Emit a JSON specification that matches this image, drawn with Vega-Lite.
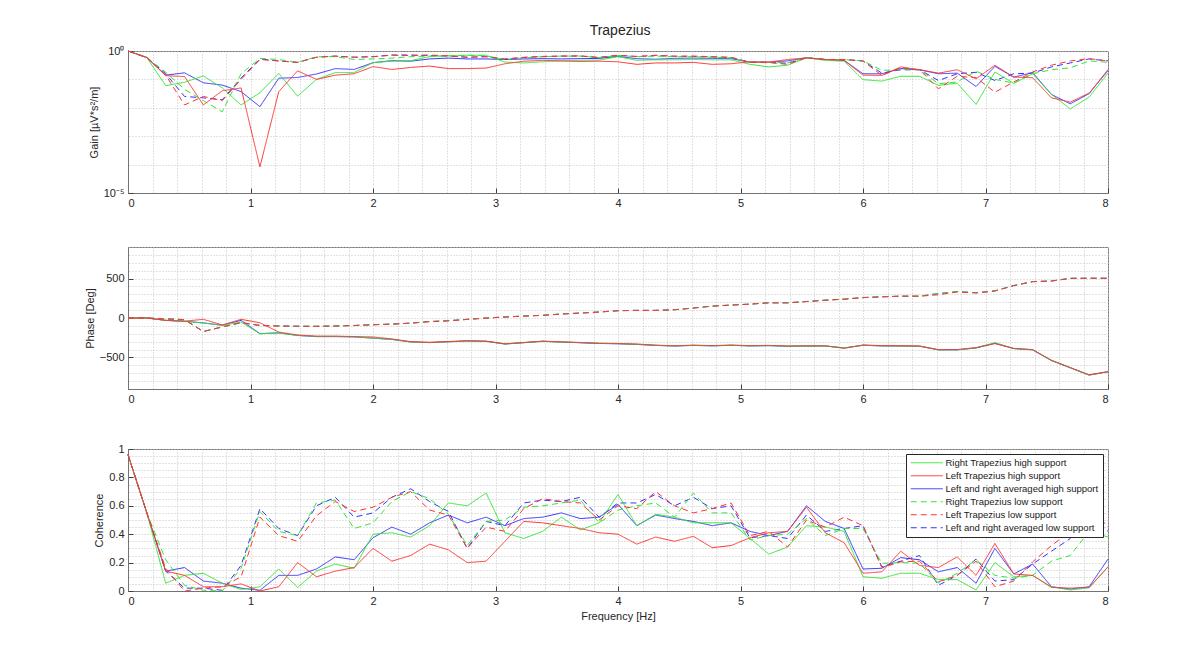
{
  "$schema": "https://vega.github.io/schema/vega-lite/v6.json",
  "padding": {"left": 83, "top": 23, "right": 0, "bottom": 0},
  "title": {"text": "Trapezius", "fontSize": 14, "fontWeight": "normal", "color": "#262626", "anchor": "middle", "offset": 7, "dx": 23},
  "config": {
    "font": "Liberation Sans",
    "view": {"stroke": "#737373"},
    "axis": {"grid": false, "labelFontSize": 11, "labelColor": "#262626", "titleFontSize": 11, "titleFontWeight": "normal", "titleColor": "#262626", "domainColor": "#737373", "tickColor": "#404040"},
    "line": {"strokeWidth": 1, "clip": true}
  },
  "data": {"values": [
    {"f":0,"s":"AVH","g":1,"p":0,"c":0.96},
    {"f":0.1538,"s":"AVH","g":0.589,"p":0,"c":0.55},
    {"f":0.3077,"s":"AVH","g":0.141,"p":-30,"c":0.14},
    {"f":0.4615,"s":"AVH","g":0.17,"p":-42,"c":0.165},
    {"f":0.6154,"s":"AVH","g":0.0759,"p":-62,"c":0.07},
    {"f":0.7692,"s":"AVH","g":0.0631,"p":-92,"c":0.055},
    {"f":0.9231,"s":"AVH","g":0.0372,"p":-30,"c":0.02},
    {"f":1.0769,"s":"AVH","g":0.011,"p":-198,"c":0.005},
    {"f":1.2308,"s":"AVH","g":0.11,"p":-188,"c":0.11},
    {"f":1.3846,"s":"AVH","g":0.117,"p":-222,"c":0.11},
    {"f":1.5385,"s":"AVH","g":0.155,"p":-236,"c":0.155},
    {"f":1.6923,"s":"AVH","g":0.24,"p":-236,"c":0.24},
    {"f":1.8462,"s":"AVH","g":0.224,"p":-240,"c":0.22},
    {"f":2,"s":"AVH","g":0.389,"p":-256,"c":0.375},
    {"f":2.1538,"s":"AVH","g":0.457,"p":-272,"c":0.45},
    {"f":2.3077,"s":"AVH","g":0.437,"p":-303,"c":0.4},
    {"f":2.4615,"s":"AVH","g":0.525,"p":-312,"c":0.48},
    {"f":2.6154,"s":"AVH","g":0.562,"p":-302,"c":0.535},
    {"f":2.7692,"s":"AVH","g":0.525,"p":-292,"c":0.48},
    {"f":2.9231,"s":"AVH","g":0.525,"p":-296,"c":0.52},
    {"f":3.0769,"s":"AVH","g":0.501,"p":-330,"c":0.46},
    {"f":3.2308,"s":"AVH","g":0.525,"p":-313,"c":0.51},
    {"f":3.3846,"s":"AVH","g":0.537,"p":-296,"c":0.52},
    {"f":3.5385,"s":"AVH","g":0.525,"p":-305,"c":0.55},
    {"f":3.6923,"s":"AVH","g":0.537,"p":-314,"c":0.51},
    {"f":3.8462,"s":"AVH","g":0.55,"p":-323,"c":0.52},
    {"f":4,"s":"AVH","g":0.646,"p":-327,"c":0.61},
    {"f":4.1538,"s":"AVH","g":0.537,"p":-335,"c":0.46},
    {"f":4.3077,"s":"AVH","g":0.513,"p":-348,"c":0.535},
    {"f":4.4615,"s":"AVH","g":0.55,"p":-355,"c":0.51},
    {"f":4.6154,"s":"AVH","g":0.562,"p":-348,"c":0.49},
    {"f":4.7692,"s":"AVH","g":0.55,"p":-353,"c":0.46},
    {"f":4.9231,"s":"AVH","g":0.537,"p":-347,"c":0.48},
    {"f":5.0769,"s":"AVH","g":0.407,"p":-354,"c":0.42},
    {"f":5.2308,"s":"AVH","g":0.407,"p":-351,"c":0.39},
    {"f":5.3846,"s":"AVH","g":0.447,"p":-358,"c":0.42},
    {"f":5.5385,"s":"AVH","g":0.575,"p":-356,"c":0.6},
    {"f":5.6923,"s":"AVH","g":0.501,"p":-355,"c":0.49},
    {"f":5.8462,"s":"AVH","g":0.468,"p":-380,"c":0.44},
    {"f":6,"s":"AVH","g":0.158,"p":-346,"c":0.155},
    {"f":6.1538,"s":"AVH","g":0.158,"p":-354,"c":0.16},
    {"f":6.3077,"s":"AVH","g":0.24,"p":-355,"c":0.235},
    {"f":6.4615,"s":"AVH","g":0.219,"p":-358,"c":0.22},
    {"f":6.6154,"s":"AVH","g":0.158,"p":-404,"c":0.135},
    {"f":6.7692,"s":"AVH","g":0.166,"p":-404,"c":0.165},
    {"f":6.9231,"s":"AVH","g":0.0562,"p":-380,"c":0.055},
    {"f":7.0769,"s":"AVH","g":0.288,"p":-320,"c":0.3},
    {"f":7.2308,"s":"AVH","g":0.12,"p":-388,"c":0.12},
    {"f":7.3846,"s":"AVH","g":0.174,"p":-404,"c":0.19},
    {"f":7.5385,"s":"AVH","g":0.0295,"p":-540,"c":0.03},
    {"f":7.6923,"s":"AVH","g":0.0138,"p":-632,"c":0.014},
    {"f":7.8462,"s":"AVH","g":0.0316,"p":-724,"c":0.03},
    {"f":8,"s":"AVH","g":0.219,"p":-682,"c":0.225},

    {"f":0,"s":"AVL","g":1,"p":0,"c":0.96},
    {"f":0.1538,"s":"AVL","g":0.589,"p":0,"c":0.55},
    {"f":0.3077,"s":"AVL","g":0.158,"p":-11,"c":0.14},
    {"f":0.4615,"s":"AVL","g":0.0251,"p":-21,"c":0.02},
    {"f":0.6154,"s":"AVL","g":0.0224,"p":-171,"c":0.02},
    {"f":0.7692,"s":"AVL","g":0.0191,"p":-114,"c":0.005},
    {"f":0.9231,"s":"AVL","g":0.112,"p":-59,"c":0.18},
    {"f":1.0769,"s":"AVL","g":0.525,"p":-94,"c":0.58},
    {"f":1.2308,"s":"AVL","g":0.447,"p":-101,"c":0.44},
    {"f":1.3846,"s":"AVL","g":0.398,"p":-105,"c":0.39},
    {"f":1.5385,"s":"AVL","g":0.603,"p":-105,"c":0.6},
    {"f":1.6923,"s":"AVL","g":0.661,"p":-101,"c":0.66},
    {"f":1.8462,"s":"AVL","g":0.603,"p":-95,"c":0.52},
    {"f":2,"s":"AVL","g":0.631,"p":-85,"c":0.55},
    {"f":2.1538,"s":"AVL","g":0.724,"p":-77,"c":0.66},
    {"f":2.3077,"s":"AVL","g":0.724,"p":-65,"c":0.72},
    {"f":2.4615,"s":"AVL","g":0.692,"p":-45,"c":0.63},
    {"f":2.6154,"s":"AVL","g":0.661,"p":-35,"c":0.56},
    {"f":2.7692,"s":"AVL","g":0.603,"p":-17,"c":0.3},
    {"f":2.9231,"s":"AVL","g":0.631,"p":0,"c":0.49},
    {"f":3.0769,"s":"AVL","g":0.513,"p":13,"c":0.46},
    {"f":3.2308,"s":"AVL","g":0.589,"p":25,"c":0.62},
    {"f":3.3846,"s":"AVL","g":0.631,"p":34,"c":0.64},
    {"f":3.5385,"s":"AVL","g":0.661,"p":51,"c":0.63},
    {"f":3.6923,"s":"AVL","g":0.661,"p":63,"c":0.66},
    {"f":3.8462,"s":"AVL","g":0.589,"p":76,"c":0.52},
    {"f":4,"s":"AVL","g":0.708,"p":93,"c":0.62},
    {"f":4.1538,"s":"AVL","g":0.631,"p":97,"c":0.62},
    {"f":4.3077,"s":"AVL","g":0.692,"p":97,"c":0.68},
    {"f":4.4615,"s":"AVL","g":0.646,"p":105,"c":0.6},
    {"f":4.6154,"s":"AVL","g":0.646,"p":127,"c":0.66},
    {"f":4.7692,"s":"AVL","g":0.617,"p":151,"c":0.58},
    {"f":4.9231,"s":"AVL","g":0.589,"p":164,"c":0.6},
    {"f":5.0769,"s":"AVL","g":0.398,"p":176,"c":0.375},
    {"f":5.2308,"s":"AVL","g":0.398,"p":193,"c":0.39},
    {"f":5.3846,"s":"AVL","g":0.372,"p":193,"c":0.37},
    {"f":5.5385,"s":"AVL","g":0.575,"p":209,"c":0.535},
    {"f":5.6923,"s":"AVL","g":0.501,"p":226,"c":0.42},
    {"f":5.8462,"s":"AVL","g":0.501,"p":239,"c":0.44},
    {"f":6,"s":"AVL","g":0.447,"p":259,"c":0.46},
    {"f":6.1538,"s":"AVL","g":0.166,"p":269,"c":0.17},
    {"f":6.3077,"s":"AVL","g":0.219,"p":277,"c":0.21},
    {"f":6.4615,"s":"AVL","g":0.219,"p":277,"c":0.25},
    {"f":6.6154,"s":"AVL","g":0.0912,"p":310,"c":0.04},
    {"f":6.7692,"s":"AVL","g":0.158,"p":335,"c":0.11},
    {"f":6.9231,"s":"AVL","g":0.178,"p":320,"c":0.225},
    {"f":7.0769,"s":"AVL","g":0.0912,"p":344,"c":0.07},
    {"f":7.2308,"s":"AVL","g":0.158,"p":411,"c":0.08},
    {"f":7.3846,"s":"AVL","g":0.166,"p":461,"c":0.19},
    {"f":7.5385,"s":"AVL","g":0.275,"p":469,"c":0.28},
    {"f":7.6923,"s":"AVL","g":0.38,"p":503,"c":0.37},
    {"f":7.8462,"s":"AVL","g":0.525,"p":504,"c":0.55},
    {"f":8,"s":"AVL","g":0.447,"p":504,"c":0.42},

    {"f":0,"s":"RTH","g":1,"p":0,"c":0.96},
    {"f":0.1538,"s":"RTH","g":0.589,"p":0,"c":0.55},
    {"f":0.3077,"s":"RTH","g":0.0603,"p":-30,"c":0.055},
    {"f":0.4615,"s":"RTH","g":0.0794,"p":-42,"c":0.11},
    {"f":0.6154,"s":"RTH","g":0.132,"p":-64,"c":0.125},
    {"f":0.7692,"s":"RTH","g":0.0501,"p":-93,"c":0.055},
    {"f":0.9231,"s":"RTH","g":0.0126,"p":-51,"c":0.01},
    {"f":1.0769,"s":"RTH","g":0.0339,"p":-200,"c":0.03},
    {"f":1.2308,"s":"RTH","g":0.162,"p":-190,"c":0.155},
    {"f":1.3846,"s":"RTH","g":0.0257,"p":-220,"c":0.025},
    {"f":1.5385,"s":"RTH","g":0.1,"p":-233,"c":0.14},
    {"f":1.6923,"s":"RTH","g":0.174,"p":-233,"c":0.19},
    {"f":1.8462,"s":"RTH","g":0.174,"p":-237,"c":0.16},
    {"f":2,"s":"RTH","g":0.389,"p":-254,"c":0.4},
    {"f":2.1538,"s":"RTH","g":0.437,"p":-270,"c":0.41},
    {"f":2.3077,"s":"RTH","g":0.457,"p":-305,"c":0.38},
    {"f":2.4615,"s":"RTH","g":0.631,"p":-310,"c":0.46},
    {"f":2.6154,"s":"RTH","g":0.692,"p":-300,"c":0.62},
    {"f":2.7692,"s":"RTH","g":0.708,"p":-291,"c":0.6},
    {"f":2.9231,"s":"RTH","g":0.708,"p":-295,"c":0.69},
    {"f":3.0769,"s":"RTH","g":0.407,"p":-329,"c":0.41},
    {"f":3.2308,"s":"RTH","g":0.38,"p":-312,"c":0.37},
    {"f":3.3846,"s":"RTH","g":0.417,"p":-295,"c":0.42},
    {"f":3.5385,"s":"RTH","g":0.447,"p":-304,"c":0.52},
    {"f":3.6923,"s":"RTH","g":0.468,"p":-312,"c":0.43},
    {"f":3.8462,"s":"RTH","g":0.479,"p":-321,"c":0.48},
    {"f":4,"s":"RTH","g":0.631,"p":-325,"c":0.68},
    {"f":4.1538,"s":"RTH","g":0.468,"p":-333,"c":0.46},
    {"f":4.3077,"s":"RTH","g":0.49,"p":-346,"c":0.54},
    {"f":4.4615,"s":"RTH","g":0.49,"p":-354,"c":0.52},
    {"f":4.6154,"s":"RTH","g":0.501,"p":-346,"c":0.48},
    {"f":4.7692,"s":"RTH","g":0.49,"p":-352,"c":0.48},
    {"f":4.9231,"s":"RTH","g":0.49,"p":-345,"c":0.48},
    {"f":5.0769,"s":"RTH","g":0.339,"p":-353,"c":0.37},
    {"f":5.2308,"s":"RTH","g":0.275,"p":-349,"c":0.26},
    {"f":5.3846,"s":"RTH","g":0.316,"p":-357,"c":0.31},
    {"f":5.5385,"s":"RTH","g":0.575,"p":-355,"c":0.46},
    {"f":5.6923,"s":"RTH","g":0.468,"p":-354,"c":0.45},
    {"f":5.8462,"s":"RTH","g":0.437,"p":-378,"c":0.42},
    {"f":6,"s":"RTH","g":0.0977,"p":-345,"c":0.1},
    {"f":6.1538,"s":"RTH","g":0.0871,"p":-353,"c":0.09},
    {"f":6.3077,"s":"RTH","g":0.129,"p":-354,"c":0.125},
    {"f":6.4615,"s":"RTH","g":0.129,"p":-357,"c":0.125},
    {"f":6.6154,"s":"RTH","g":0.0617,"p":-403,"c":0.08},
    {"f":6.7692,"s":"RTH","g":0.0741,"p":-403,"c":0.08},
    {"f":6.9231,"s":"RTH","g":0.0132,"p":-378,"c":0.007},
    {"f":7.0769,"s":"RTH","g":0.182,"p":-311,"c":0.2},
    {"f":7.2308,"s":"RTH","g":0.0724,"p":-387,"c":0.1},
    {"f":7.3846,"s":"RTH","g":0.158,"p":-403,"c":0.11},
    {"f":7.5385,"s":"RTH","g":0.0295,"p":-538,"c":0.03},
    {"f":7.6923,"s":"RTH","g":0.00912,"p":-630,"c":0.007},
    {"f":7.8462,"s":"RTH","g":0.024,"p":-723,"c":0.023},
    {"f":8,"s":"RTH","g":0.166,"p":-681,"c":0.17},

    {"f":0,"s":"RTL","g":1,"p":0,"c":0.96},
    {"f":0.1538,"s":"RTL","g":0.589,"p":0,"c":0.55},
    {"f":0.3077,"s":"RTL","g":0.178,"p":-10,"c":0.22},
    {"f":0.4615,"s":"RTL","g":0.0447,"p":-20,"c":0.04},
    {"f":0.6154,"s":"RTL","g":0.0178,"p":-170,"c":0.005},
    {"f":0.7692,"s":"RTL","g":0.00724,"p":-115,"c":0},
    {"f":0.9231,"s":"RTL","g":0.158,"p":-60,"c":0.16},
    {"f":1.0769,"s":"RTL","g":0.55,"p":-93,"c":0.56},
    {"f":1.2308,"s":"RTL","g":0.501,"p":-100,"c":0.42},
    {"f":1.3846,"s":"RTL","g":0.398,"p":-105,"c":0.39},
    {"f":1.5385,"s":"RTL","g":0.631,"p":-105,"c":0.62},
    {"f":1.6923,"s":"RTL","g":0.631,"p":-100,"c":0.64},
    {"f":1.8462,"s":"RTL","g":0.501,"p":-95,"c":0.44},
    {"f":2,"s":"RTL","g":0.525,"p":-85,"c":0.48},
    {"f":2.1538,"s":"RTL","g":0.562,"p":-77,"c":0.63},
    {"f":2.3077,"s":"RTL","g":0.631,"p":-65,"c":0.7},
    {"f":2.4615,"s":"RTL","g":0.661,"p":-45,"c":0.65},
    {"f":2.6154,"s":"RTL","g":0.661,"p":-34,"c":0.54},
    {"f":2.7692,"s":"RTL","g":0.708,"p":-17,"c":0.32},
    {"f":2.9231,"s":"RTL","g":0.676,"p":0,"c":0.49},
    {"f":3.0769,"s":"RTL","g":0.501,"p":13,"c":0.5},
    {"f":3.2308,"s":"RTL","g":0.575,"p":25,"c":0.59},
    {"f":3.3846,"s":"RTL","g":0.631,"p":34,"c":0.6},
    {"f":3.5385,"s":"RTL","g":0.661,"p":51,"c":0.62},
    {"f":3.6923,"s":"RTL","g":0.661,"p":63,"c":0.64},
    {"f":3.8462,"s":"RTL","g":0.589,"p":76,"c":0.48},
    {"f":4,"s":"RTL","g":0.692,"p":93,"c":0.57},
    {"f":4.1538,"s":"RTL","g":0.631,"p":97,"c":0.6},
    {"f":4.3077,"s":"RTL","g":0.661,"p":97,"c":0.62},
    {"f":4.4615,"s":"RTL","g":0.631,"p":105,"c":0.52},
    {"f":4.6154,"s":"RTL","g":0.631,"p":127,"c":0.69},
    {"f":4.7692,"s":"RTL","g":0.603,"p":152,"c":0.55},
    {"f":4.9231,"s":"RTL","g":0.575,"p":165,"c":0.55},
    {"f":5.0769,"s":"RTL","g":0.398,"p":176,"c":0.36},
    {"f":5.2308,"s":"RTL","g":0.398,"p":193,"c":0.39},
    {"f":5.3846,"s":"RTL","g":0.38,"p":193,"c":0.4},
    {"f":5.5385,"s":"RTL","g":0.575,"p":210,"c":0.51},
    {"f":5.6923,"s":"RTL","g":0.501,"p":227,"c":0.39},
    {"f":5.8462,"s":"RTL","g":0.501,"p":240,"c":0.44},
    {"f":6,"s":"RTL","g":0.447,"p":260,"c":0.44},
    {"f":6.1538,"s":"RTL","g":0.209,"p":269,"c":0.195},
    {"f":6.3077,"s":"RTL","g":0.219,"p":277,"c":0.2},
    {"f":6.4615,"s":"RTL","g":0.219,"p":277,"c":0.195},
    {"f":6.6154,"s":"RTL","g":0.0708,"p":311,"c":0.055},
    {"f":6.7692,"s":"RTL","g":0.0813,"p":336,"c":0.125},
    {"f":6.9231,"s":"RTL","g":0.195,"p":320,"c":0.22},
    {"f":7.0769,"s":"RTL","g":0.1,"p":345,"c":0.11},
    {"f":7.2308,"s":"RTL","g":0.0741,"p":412,"c":0.09},
    {"f":7.3846,"s":"RTL","g":0.158,"p":462,"c":0.11},
    {"f":7.5385,"s":"RTL","g":0.219,"p":470,"c":0.21},
    {"f":7.6923,"s":"RTL","g":0.257,"p":504,"c":0.25},
    {"f":7.8462,"s":"RTL","g":0.447,"p":504,"c":0.42},
    {"f":8,"s":"RTL","g":0.398,"p":504,"c":0.38},

    {"f":0,"s":"LTH","g":1,"p":0,"c":0.96},
    {"f":0.1538,"s":"LTH","g":0.589,"p":0,"c":0.55},
    {"f":0.3077,"s":"LTH","g":0.135,"p":-30,"c":0.14},
    {"f":0.4615,"s":"LTH","g":0.126,"p":-40,"c":0.11},
    {"f":0.6154,"s":"LTH","g":0.0126,"p":-17,"c":0.03},
    {"f":0.7692,"s":"LTH","g":0.0398,"p":-88,"c":0.03},
    {"f":0.9231,"s":"LTH","g":0.0501,"p":-17,"c":0.05},
    {"f":1.0769,"s":"LTH","g":0.0000832,"p":-60,"c":0},
    {"f":1.2308,"s":"LTH","g":0.0372,"p":-178,"c":0.03},
    {"f":1.3846,"s":"LTH","g":0.2,"p":-215,"c":0.2},
    {"f":1.5385,"s":"LTH","g":0.1,"p":-230,"c":0.1},
    {"f":1.6923,"s":"LTH","g":0.141,"p":-230,"c":0.14},
    {"f":1.8462,"s":"LTH","g":0.158,"p":-235,"c":0.165},
    {"f":2,"s":"LTH","g":0.282,"p":-240,"c":0.3},
    {"f":2.1538,"s":"LTH","g":0.224,"p":-265,"c":0.21},
    {"f":2.3077,"s":"LTH","g":0.263,"p":-300,"c":0.25},
    {"f":2.4615,"s":"LTH","g":0.295,"p":-308,"c":0.33},
    {"f":2.6154,"s":"LTH","g":0.24,"p":-298,"c":0.29},
    {"f":2.7692,"s":"LTH","g":0.24,"p":-288,"c":0.2},
    {"f":2.9231,"s":"LTH","g":0.251,"p":-293,"c":0.21},
    {"f":3.0769,"s":"LTH","g":0.355,"p":-327,"c":0.35},
    {"f":3.2308,"s":"LTH","g":0.437,"p":-310,"c":0.49},
    {"f":3.3846,"s":"LTH","g":0.468,"p":-293,"c":0.48},
    {"f":3.5385,"s":"LTH","g":0.447,"p":-302,"c":0.46},
    {"f":3.6923,"s":"LTH","g":0.427,"p":-310,"c":0.44},
    {"f":3.8462,"s":"LTH","g":0.437,"p":-320,"c":0.41},
    {"f":4,"s":"LTH","g":0.417,"p":-323,"c":0.4},
    {"f":4.1538,"s":"LTH","g":0.339,"p":-330,"c":0.33},
    {"f":4.3077,"s":"LTH","g":0.38,"p":-344,"c":0.38},
    {"f":4.4615,"s":"LTH","g":0.38,"p":-352,"c":0.35},
    {"f":4.6154,"s":"LTH","g":0.398,"p":-344,"c":0.385},
    {"f":4.7692,"s":"LTH","g":0.339,"p":-350,"c":0.305},
    {"f":4.9231,"s":"LTH","g":0.355,"p":-343,"c":0.32},
    {"f":5.0769,"s":"LTH","g":0.417,"p":-350,"c":0.375},
    {"f":5.2308,"s":"LTH","g":0.407,"p":-347,"c":0.41},
    {"f":5.3846,"s":"LTH","g":0.501,"p":-355,"c":0.42},
    {"f":5.5385,"s":"LTH","g":0.575,"p":-352,"c":0.59},
    {"f":5.6923,"s":"LTH","g":0.501,"p":-352,"c":0.41},
    {"f":5.8462,"s":"LTH","g":0.468,"p":-385,"c":0.34},
    {"f":6,"s":"LTH","g":0.141,"p":-342,"c":0.125},
    {"f":6.1538,"s":"LTH","g":0.138,"p":-350,"c":0.135},
    {"f":6.3077,"s":"LTH","g":0.275,"p":-352,"c":0.28},
    {"f":6.4615,"s":"LTH","g":0.219,"p":-355,"c":0.18},
    {"f":6.6154,"s":"LTH","g":0.166,"p":-400,"c":0.165},
    {"f":6.7692,"s":"LTH","g":0.219,"p":-400,"c":0.24},
    {"f":6.9231,"s":"LTH","g":0.105,"p":-375,"c":0.11},
    {"f":7.0769,"s":"LTH","g":0.316,"p":-325,"c":0.335},
    {"f":7.2308,"s":"LTH","g":0.12,"p":-385,"c":0.12},
    {"f":7.3846,"s":"LTH","g":0.115,"p":-400,"c":0.11},
    {"f":7.5385,"s":"LTH","g":0.0224,"p":-535,"c":0.025},
    {"f":7.6923,"s":"LTH","g":0.0158,"p":-628,"c":0.02},
    {"f":7.8462,"s":"LTH","g":0.0331,"p":-720,"c":0.025},
    {"f":8,"s":"LTH","g":0.2,"p":-679,"c":0.17},

    {"f":0,"s":"LTL","g":1,"p":0,"c":0.96},
    {"f":0.1538,"s":"LTL","g":0.589,"p":0,"c":0.55},
    {"f":0.3077,"s":"LTL","g":0.141,"p":-12,"c":0.16},
    {"f":0.4615,"s":"LTL","g":0.0126,"p":-22,"c":0},
    {"f":0.6154,"s":"LTL","g":0.0251,"p":-172,"c":0.02},
    {"f":0.7692,"s":"LTL","g":0.0178,"p":-112,"c":0.03},
    {"f":0.9231,"s":"LTL","g":0.1,"p":-58,"c":0.1},
    {"f":1.0769,"s":"LTL","g":0.501,"p":-95,"c":0.52},
    {"f":1.2308,"s":"LTL","g":0.447,"p":-102,"c":0.39},
    {"f":1.3846,"s":"LTL","g":0.398,"p":-104,"c":0.35},
    {"f":1.5385,"s":"LTL","g":0.603,"p":-106,"c":0.53},
    {"f":1.6923,"s":"LTL","g":0.661,"p":-102,"c":0.63},
    {"f":1.8462,"s":"LTL","g":0.603,"p":-96,"c":0.56},
    {"f":2,"s":"LTL","g":0.631,"p":-86,"c":0.59},
    {"f":2.1538,"s":"LTL","g":0.708,"p":-78,"c":0.66},
    {"f":2.3077,"s":"LTL","g":0.692,"p":-66,"c":0.7},
    {"f":2.4615,"s":"LTL","g":0.724,"p":-46,"c":0.57},
    {"f":2.6154,"s":"LTL","g":0.676,"p":-36,"c":0.535},
    {"f":2.7692,"s":"LTL","g":0.603,"p":-18,"c":0.3},
    {"f":2.9231,"s":"LTL","g":0.631,"p":-2,"c":0.45},
    {"f":3.0769,"s":"LTL","g":0.525,"p":12,"c":0.42},
    {"f":3.2308,"s":"LTL","g":0.603,"p":24,"c":0.58},
    {"f":3.3846,"s":"LTL","g":0.646,"p":33,"c":0.65},
    {"f":3.5385,"s":"LTL","g":0.661,"p":50,"c":0.63},
    {"f":3.6923,"s":"LTL","g":0.676,"p":62,"c":0.62},
    {"f":3.8462,"s":"LTL","g":0.589,"p":75,"c":0.5},
    {"f":4,"s":"LTL","g":0.708,"p":92,"c":0.6},
    {"f":4.1538,"s":"LTL","g":0.646,"p":96,"c":0.58},
    {"f":4.3077,"s":"LTL","g":0.708,"p":96,"c":0.7},
    {"f":4.4615,"s":"LTL","g":0.661,"p":104,"c":0.6},
    {"f":4.6154,"s":"LTL","g":0.661,"p":126,"c":0.55},
    {"f":4.7692,"s":"LTL","g":0.631,"p":150,"c":0.58},
    {"f":4.9231,"s":"LTL","g":0.603,"p":163,"c":0.62},
    {"f":5.0769,"s":"LTL","g":0.398,"p":175,"c":0.39},
    {"f":5.2308,"s":"LTL","g":0.389,"p":192,"c":0.42},
    {"f":5.3846,"s":"LTL","g":0.339,"p":192,"c":0.31},
    {"f":5.5385,"s":"LTL","g":0.575,"p":208,"c":0.5},
    {"f":5.6923,"s":"LTL","g":0.501,"p":225,"c":0.45},
    {"f":5.8462,"s":"LTL","g":0.501,"p":238,"c":0.52},
    {"f":6,"s":"LTL","g":0.447,"p":258,"c":0.46},
    {"f":6.1538,"s":"LTL","g":0.138,"p":268,"c":0.165},
    {"f":6.3077,"s":"LTL","g":0.257,"p":276,"c":0.205},
    {"f":6.4615,"s":"LTL","g":0.219,"p":276,"c":0.21},
    {"f":6.6154,"s":"LTL","g":0.0468,"p":294,"c":0.065},
    {"f":6.7692,"s":"LTL","g":0.129,"p":330,"c":0.11},
    {"f":6.9231,"s":"LTL","g":0.115,"p":318,"c":0.21},
    {"f":7.0769,"s":"LTL","g":0.0355,"p":342,"c":0.03},
    {"f":7.2308,"s":"LTL","g":0.0813,"p":410,"c":0.07},
    {"f":7.3846,"s":"LTL","g":0.182,"p":460,"c":0.205},
    {"f":7.5385,"s":"LTL","g":0.316,"p":468,"c":0.32},
    {"f":7.6923,"s":"LTL","g":0.447,"p":502,"c":0.42},
    {"f":7.8462,"s":"LTL","g":0.537,"p":504,"c":0.6},
    {"f":8,"s":"LTL","g":0.447,"p":503,"c":0.45}
  ]},
  "spacing": 37,
  "resolve": {"legend": {"color": "independent", "strokeDash": "independent"}},
  "vconcat": [
    {
      "width": 980,
      "height": 142,
      "layer": [
        {
          "mark": "line",
          "encoding": {
            "x": {"field": "f", "type": "quantitative", "scale": {"domain": [0, 8], "nice": false, "zero": false},
                  "axis": {"values": [0,1,2,3,4,5,6,7,8], "format": "d", "title": null, "tickSize": -5, "labelPadding": 9}},
            "y": {"field": "g", "type": "quantitative", "scale": {"type": "log", "domain": [0.00001, 1], "nice": false},
                  "axis": {"values": [0.00001, 1], "labelExpr": "datum.value > 0.5 ? '10⁰' : '10⁻⁵'", "title": "Gain [µV*s²/m]", "tickSize": -5, "labelPadding": 9}},
            "color": {"field": "s", "type": "nominal", "legend": null,
                      "scale": {"domain": ["RTH","LTH","AVH","RTL","LTL","AVL"], "range": ["#33e633","#ff3333","#3333ff","#33e633","#ff3333","#3333ff"]}},
            "strokeDash": {"field": "s", "type": "nominal", "legend": null,
                      "scale": {"domain": ["RTH","LTH","AVH","RTL","LTL","AVL"], "range": [[1,0],[1,0],[1,0],[6,4],[6,4],[6,4]]}}
          }
        },
        {
          "mark": {"type": "line", "opacity": 0},
          "encoding": {
            "x": {"field": "f", "type": "quantitative",
                  "axis": {"values": [0,0.2,0.4,0.6,0.8,1,1.2,1.4,1.6,1.8,2,2.2,2.4,2.6,2.8,3,3.2,3.4,3.6,3.8,4,4.2,4.4,4.6,4.8,5,5.2,5.4,5.6,5.8,6,6.2,6.4,6.6,6.8,7,7.2,7.4,7.6,7.8,8], "grid": true, "gridColor": "#c4c4c4", "gridDash": [1,2], "labels": false, "ticks": false, "domain": false, "title": null}},
            "y": {"field": "g", "type": "quantitative",
                  "axis": {"values": [0.00001,0.0001,0.001,0.01,0.1,1], "grid": true, "gridColor": "#c4c4c4", "gridDash": [1,2], "labels": false, "ticks": false, "domain": false, "title": null}}
          }
        }
      ],
      "resolve": {"axis": {"x": "independent", "y": "independent"}}
    },
    {
      "width": 980,
      "height": 142,
      "layer": [
        {
          "mark": "line",
          "encoding": {
            "x": {"field": "f", "type": "quantitative", "scale": {"domain": [0, 8], "nice": false, "zero": false},
                  "axis": {"values": [0,1,2,3,4,5,6,7,8], "format": "d", "title": null, "tickSize": -5, "labelPadding": 9}},
            "y": {"field": "p", "type": "quantitative", "scale": {"domain": [-900, 900], "nice": false},
                  "axis": {"values": [-500, 0, 500], "format": "d", "title": "Phase [Deg]", "tickSize": -5, "labelPadding": 9}},
            "color": {"field": "s", "type": "nominal", "legend": null,
                      "scale": {"domain": ["RTH","LTH","AVH","RTL","LTL","AVL"], "range": ["#33e633","#ff3333","#3333ff","#33e633","#ff3333","#3333ff"]}},
            "strokeDash": {"field": "s", "type": "nominal", "legend": null,
                      "scale": {"domain": ["RTH","LTH","AVH","RTL","LTL","AVL"], "range": [[1,0],[1,0],[1,0],[6,4],[6,4],[6,4]]}}
          }
        },
        {
          "mark": {"type": "line", "opacity": 0},
          "encoding": {
            "x": {"field": "f", "type": "quantitative",
                  "axis": {"values": [0,0.2,0.4,0.6,0.8,1,1.2,1.4,1.6,1.8,2,2.2,2.4,2.6,2.8,3,3.2,3.4,3.6,3.8,4,4.2,4.4,4.6,4.8,5,5.2,5.4,5.6,5.8,6,6.2,6.4,6.6,6.8,7,7.2,7.4,7.6,7.8,8], "grid": true, "gridColor": "#c4c4c4", "gridDash": [1,2], "labels": false, "ticks": false, "domain": false, "title": null}},
            "y": {"field": "p", "type": "quantitative",
                  "axis": {"values": [-900,-800,-700,-600,-500,-400,-300,-200,-100,0,100,200,300,400,500,600,700,800,900], "grid": true, "gridColor": "#c4c4c4", "gridDash": [1,2], "labels": false, "ticks": false, "domain": false, "title": null}}
          }
        }
      ],
      "resolve": {"axis": {"x": "independent", "y": "independent"}}
    },
    {
      "width": 980,
      "height": 142,
      "layer": [
        {
          "mark": "line",
          "encoding": {
            "x": {"field": "f", "type": "quantitative", "scale": {"domain": [0, 8], "nice": false, "zero": false},
                  "axis": {"values": [0,1,2,3,4,5,6,7,8], "format": "d", "title": "Frequency [Hz]", "tickSize": -5, "labelPadding": 9}},
            "y": {"field": "c", "type": "quantitative", "scale": {"domain": [0, 1], "nice": false},
                  "axis": {"values": [0, 0.2, 0.4, 0.6, 0.8, 1], "format": "~g", "title": "Coherence", "tickSize": -5, "labelPadding": 9}},
            "color": {"field": "s", "type": "nominal",
                      "scale": {"domain": ["RTH","LTH","AVH","RTL","LTL","AVL"], "range": ["#33e633","#ff3333","#3333ff","#33e633","#ff3333","#3333ff"]},
                      "legend": {"orient": "top-right", "offset": 5, "title": null, "symbolType": "M-5,0H5", "symbolSize": 41, "symbolOffset": 12, "symbolStrokeWidth": 1, "labelFontSize": 9.5, "labelColor": "#1a1a1a", "labelOffset": 14, "rowPadding": 2, "padding": 4, "fillColor": "white", "strokeColor": "#262626",
                                 "labelExpr": "{'RTH':'Right Trapezius high support','LTH':'Left Trapezius high support','AVH':'Left and right averaged high support','RTL':'Right Trapezius low support','LTL':'Left Trapezius low support','AVL':'Left and right averaged low support'}[datum.label]"}},
            "strokeDash": {"field": "s", "type": "nominal",
                      "scale": {"domain": ["RTH","LTH","AVH","RTL","LTL","AVL"], "range": [[1,0],[1,0],[1,0],[6,4],[6,4],[6,4]]},
                      "legend": {"orient": "top-right", "offset": 5, "title": null, "symbolType": "M-5,0H5", "symbolSize": 41, "symbolOffset": 12, "symbolStrokeWidth": 1, "labelFontSize": 9.5, "labelColor": "#1a1a1a", "labelOffset": 14, "rowPadding": 2, "padding": 4, "fillColor": "white", "strokeColor": "#262626",
                                 "labelExpr": "{'RTH':'Right Trapezius high support','LTH':'Left Trapezius high support','AVH':'Left and right averaged high support','RTL':'Right Trapezius low support','LTL':'Left Trapezius low support','AVL':'Left and right averaged low support'}[datum.label]"}}
          }
        },
        {
          "mark": {"type": "line", "opacity": 0},
          "encoding": {
            "x": {"field": "f", "type": "quantitative",
                  "axis": {"values": [0,0.2,0.4,0.6,0.8,1,1.2,1.4,1.6,1.8,2,2.2,2.4,2.6,2.8,3,3.2,3.4,3.6,3.8,4,4.2,4.4,4.6,4.8,5,5.2,5.4,5.6,5.8,6,6.2,6.4,6.6,6.8,7,7.2,7.4,7.6,7.8,8], "grid": true, "gridColor": "#c4c4c4", "gridDash": [1,2], "labels": false, "ticks": false, "domain": false, "title": null}},
            "y": {"field": "c", "type": "quantitative",
                  "axis": {"values": [0,0.05,0.1,0.15,0.2,0.25,0.3,0.35,0.4,0.45,0.5,0.55,0.6,0.65,0.7,0.75,0.8,0.85,0.9,0.95,1], "grid": true, "gridColor": "#c4c4c4", "gridDash": [1,2], "labels": false, "ticks": false, "domain": false, "title": null}}
          }
        }
      ],
      "resolve": {"axis": {"x": "independent", "y": "independent"}}
    }
  ]
}
